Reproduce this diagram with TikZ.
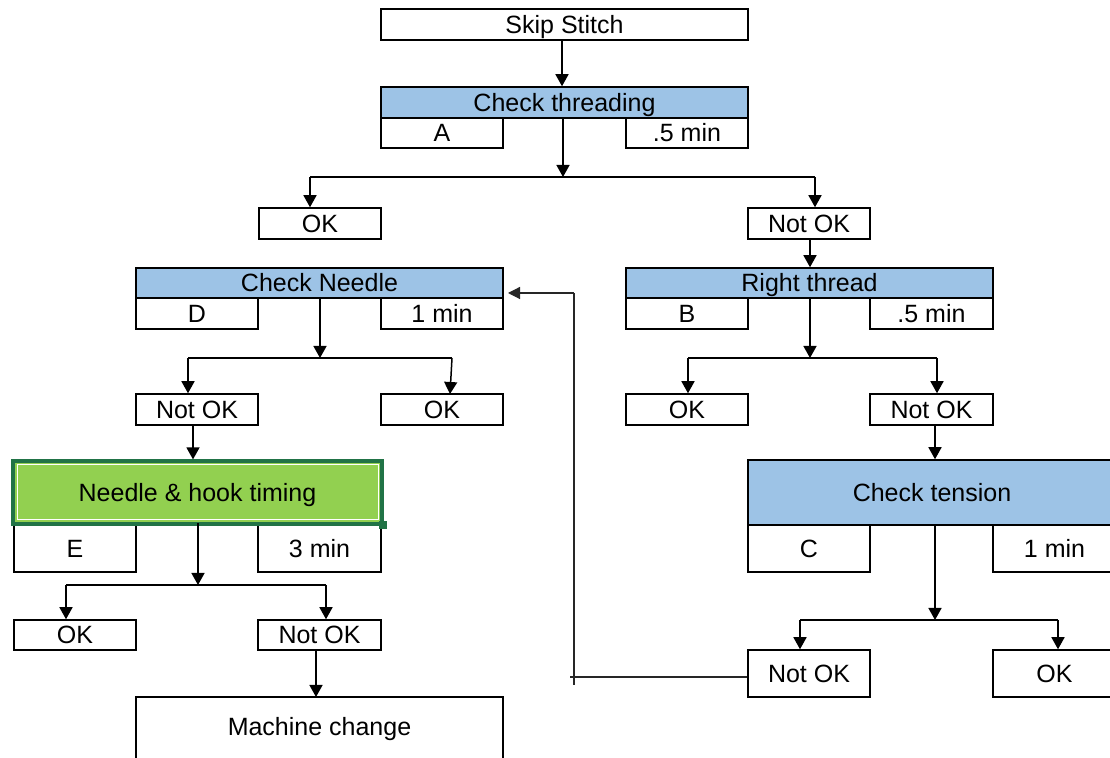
\documentclass[tikz,border=0pt]{standalone}
\usepackage{fontspec}
\setmainfont{Liberation Sans}
\usetikzlibrary{arrows.meta}
\definecolor{hdrblue}{HTML}{9DC3E6}
\definecolor{hookgreen}{HTML}{92D050}
\definecolor{hookedge}{HTML}{217346}
\newcommand\mybox[7]{%
  \pgfmathsetmacro\cxx{(#2+#4)/2}\pgfmathsetmacro\cyy{(#3+#5)/2}%
  \pgfmathsetmacro\www{(#4-#2)/2}\pgfmathsetmacro\hhh{(#5-#3)/2}%
  \node[#6, minimum width=\www pt, minimum height=\hhh pt] (#1) at (\cxx,\cyy) {#7};}
\begin{document}
\begin{tikzpicture}[x=0.5pt,y=-0.5pt,
  font=\fontsize{12.5}{14}\selectfont,
  plain/.style={draw=black, fill=white, line width=0.75pt, inner sep=0pt, anchor=center, text height=8.9pt, text depth=0pt},
  hdr/.style={plain, fill=hdrblue},
  hook/.style={draw=hookedge, fill=hookgreen, line width=1.6pt, inner sep=0pt, anchor=center, text height=8.9pt, text depth=0pt},
  arr/.style={-{Triangle[width=6.5pt,length=6pt]}, line width=0.75pt},
  ln/.style={line width=0.75pt},
  fb/.style={line width=0.6pt, draw=black!85}]
\useasboundingbox (0,0) rectangle (1110,758);
\clip (0,0) rectangle (1110,758);
\fill[white] (0,0) rectangle (1110,758);
% top
\mybox{skip}{381}{9}{748}{40}{plain}{Skip Stitch}
\mybox{A}{381}{118}{503}{148}{plain}{A}
\mybox{tA}{626}{118}{748}{148}{plain}{.5 min}
\mybox{thr}{381}{87}{748}{118}{hdr}{Check threading}
\mybox{ok1}{259}{208}{381}{239}{plain}{OK}
\mybox{nok1}{748}{208}{870}{239}{plain}{Not OK}
% left branch
\mybox{D}{136}{298}{258}{329}{plain}{D}
\mybox{tD}{381}{298}{503}{329}{plain}{1 min}
\mybox{needle}{136}{268}{503}{298}{hdr}{Check Needle}
\mybox{nok2}{136}{394}{258}{425}{plain}{Not OK}
\mybox{ok2}{381}{394}{503}{425}{plain}{OK}
\mybox{E}{14}{525}{136}{572}{plain}{E}
\mybox{tE}{258}{525}{381}{572}{plain}{3 min}
\mybox{hookb}{13}{461}{382}{524}{hook}{Needle \& hook timing}
\draw[white, line width=0.5pt] (17,465) rectangle (378,520);
\fill[hookedge] (379,521) rectangle (387,529);
\mybox{ok4}{14}{620}{136}{650}{plain}{OK}
\mybox{nok4}{258}{620}{381}{650}{plain}{Not OK}
\draw[ln, fill=white] (136,760) -- (136,697) -- (503,697) -- (503,760);
\node[inner sep=0pt, text height=8.9pt, text depth=0pt] (mach) at (319.5,727) {Machine change};
\coordinate (machtop) at (316,697);
% right branch
\mybox{B}{626}{298}{748}{329}{plain}{B}
\mybox{tB}{870}{298}{993}{329}{plain}{.5 min}
\mybox{right}{626}{268}{993}{298}{hdr}{Right thread}
\mybox{ok3}{626}{394}{748}{425}{plain}{OK}
\mybox{nok3}{870}{394}{993}{425}{plain}{Not OK}
\mybox{C}{748}{525}{870}{572}{plain}{C}
\mybox{tC}{993}{525}{1116}{572}{plain}{1 min}
\mybox{tension}{748}{460}{1116}{525}{hdr}{Check tension}
\mybox{nok5}{748}{650}{870}{697}{plain}{Not OK}
\mybox{ok5}{993}{650}{1116}{697}{plain}{OK}
% connectors: top
\draw[arr] (skip.south -| 562,0) -- (thr.north -| 562,0);
\coordinate (s1) at (563,177);
\coordinate (s1l) at (310,177);
\coordinate (s1r) at (815,177);
\draw[arr] (thr.south -| s1) -- (s1);
\draw[ln] (s1l) -- (s1r);
\draw[arr] (s1l) -- (s1l |- ok1.north);
\draw[arr] (s1r) -- (s1r |- nok1.north);
\draw[arr] (nok1.south -| 810,0) -- (right.north -| 810,0);
% right split
\coordinate (s2) at (810,358);
\coordinate (s2l) at (688,358);
\coordinate (s2r) at (937,358);
\draw[arr] (right.south -| s2) -- (s2);
\draw[ln] (s2l) -- (s2r);
\draw[arr] (s2l) -- (s2l |- ok3.north);
\draw[arr] (s2r) -- (s2r |- nok3.north);
\draw[arr] (nok3.south -| 935,0) -- (tension.north -| 935,0);
\coordinate (s3) at (935,620);
\coordinate (s3l) at (800,620);
\coordinate (s3r) at (1058,620);
\draw[arr] (tension.south -| s3) -- (s3);
\draw[ln] (s3l) -- (s3r);
\draw[arr] (s3l) -- (s3l |- nok5.north);
\draw[arr] (s3r) -- (s3r |- ok5.north);
% feedback
\coordinate (fb1) at (574,677);
\coordinate (fb2) at (574,293);
\coordinate (fbtip) at (508,293);
\draw[fb] (nok5.west |- fb1) -- (570,677);
\draw[fb] (574,685) -- (fb2);
\draw[fb, -{Triangle[width=6pt,length=6pt]}] (fb2) -- (fbtip);
% left split
\coordinate (s4) at (320,358);
\coordinate (s4l) at (188,358);
\coordinate (s4r) at (452,358);
\draw[arr] (needle.south -| s4) -- (s4);
\draw[ln] (s4l) -- (s4r);
\draw[arr] (s4l) -- (s4l |- nok2.north);
\draw[arr] (s4r) -- (450,394);
\draw[arr] (nok2.south -| 193,0) -- (hookb.north -| 193,0);
\coordinate (s5) at (198,585);
\coordinate (s5l) at (66,585);
\coordinate (s5r) at (326,585);
\draw[arr] (E.north -| s5) ++(0,-1) -- (s5);
\draw[ln] (s5l) -- (s5r);
\draw[arr] (s5l) -- (s5l |- ok4.north);
\draw[arr] (s5r) -- (s5r |- nok4.north);
\draw[arr] (nok4.south -| machtop) -- (machtop);
\end{tikzpicture}
\end{document}
